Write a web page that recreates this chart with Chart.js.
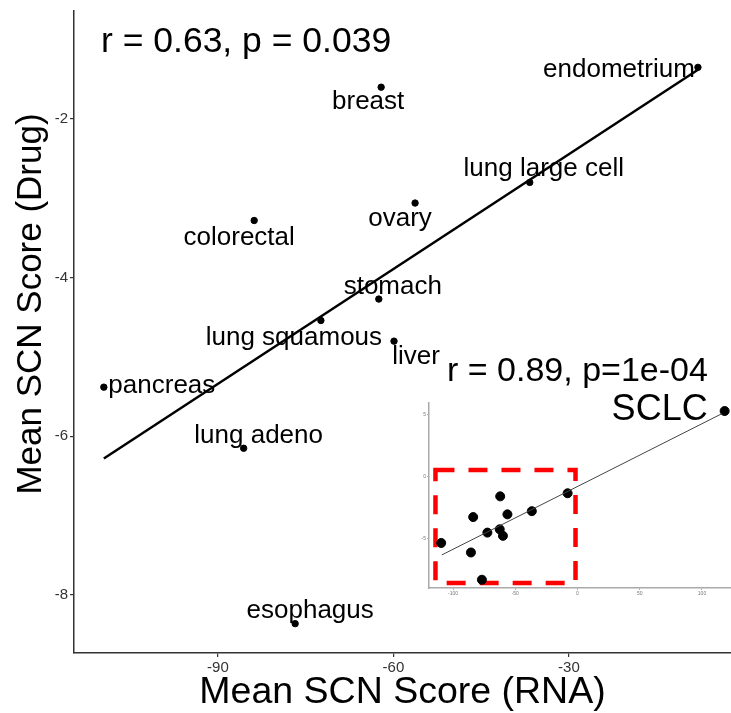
<!DOCTYPE html>
<html>
<head>
<meta charset="utf-8">
<script src="https://cdn.jsdelivr.net/npm/chart.js@4.4.1/dist/chart.umd.min.js"></script>
<style>
  html, body { margin: 0; padding: 0; background: #fff; overflow: hidden; }
  #wrap { position: relative; width: 731px; height: 713px; }
  #main { position: absolute; left: 0; top: 0; }
  #inset { position: absolute; left: 400px; top: 345px; }
</style>
</head>
<body>
<div id="wrap">
  <canvas id="main" width="731" height="713"></canvas>
  <canvas id="inset" width="331" height="260"></canvas>
</div>
<script>
const FONT = "'Liberation Sans', Arial, Helvetica, sans-serif";

// tumour types and their mean SCN scores
const tissues = ["endometrium", "breast", "lung large cell", "ovary", "colorectal", "stomach",
  "lung squamous", "liver", "pancreas", "lung adeno", "esophagus"];
const rnaScore = [-7.95, -62.1, -36.7, -56.3, -83.8, -62.5, -72.4, -59.9, -109.5, -85.6, -76.8];
const drugScore = [-1.35, -1.60, -2.80, -3.06, -3.28, -4.27, -4.54, -4.80, -5.38, -6.15, -8.36];

// SCLC only shows up in the inset
const sclcName = ["SCLC"];
const sclcRna = [118.2];
const sclcDrug = [5.32];

// fitted lines (end points)
const fitRna = [-109.5, -7.95];
const fitDrug = [-6.28, -1.38];
const insetFitRna = [-109, 115.5];
const insetFitDrug = [-6.35, 5.08];

// red zoom box in the inset
const boxRna = [-114.1, -1.6];
const boxDrug = [-8.63, 0.54];

// ticks
const mainXTicks = [-90, -60, -30];
const mainYTicks = [-8, -6, -4, -2];
const insetXTicks = [-100, -50, 0, 50, 100];
const insetYTicks = [-5, 0, 5];

// where each label sits relative to its point (px)
const labelShift = [[-79, 2], [-13, 15], [14, -14], [-15, 16], [-15, 17], [14, -12],
  [-27, 17], [22, 16], [58, -1], [15, -12], [15, -13]];

const toPts = (xs, ys) => xs.map((x, i) => ({ x: x, y: ys[i] }));

const mainText = {
  id: "mainText",
  afterDatasetsDraw(chart) {
    const ctx = chart.ctx;
    const area = chart.chartArea;
    const pts = chart.getDatasetMeta(1).data;
    ctx.save();
    ctx.fillStyle = "#000";
    ctx.textBaseline = "middle";
    ctx.textAlign = "center";
    ctx.font = "26px " + FONT;
    pts.forEach((p, i) => {
      ctx.fillText(tissues[i], p.x + labelShift[i][0], p.y + labelShift[i][1]);
    });

    ctx.textAlign = "left";
    ctx.font = "35.5px " + FONT;
    ctx.fillText("r = 0.63, p = 0.039", area.left + 27, area.top + 31);

    // axis titles
    ctx.textAlign = "center";
    ctx.font = "37.5px " + FONT;
    ctx.fillText("Mean SCN Score (RNA)", (area.left + area.right) / 2, area.bottom + 40);
    ctx.font = "35px " + FONT;
    ctx.translate(31, 304);
    ctx.rotate(-Math.PI / 2);
    ctx.fillText("Mean SCN Score (Drug)", 0, 0);
    ctx.restore();
  }
};

const axisLook = (ticks, size) => ({
  afterBuildTicks: s => { s.ticks = ticks.map(v => ({ value: v })); },
  grid: { display: true, drawOnChartArea: false, drawTicks: true, tickLength: 4, color: "#333", lineWidth: 1.2 },
  border: { display: true, color: "#333", width: 1.5 },
  ticks: { color: "#333", font: { size: size, family: FONT }, padding: 2, maxRotation: 0 }
});

new Chart(document.getElementById("main"), {
  type: "scatter",
  data: {
    datasets: [
      {
        type: "line",
        data: toPts(fitRna, fitDrug),
        borderColor: "#000",
        borderWidth: 2.5,
        pointRadius: 0,
        fill: false
      },
      {
        data: toPts(rnaScore, drugScore),
        backgroundColor: "#000",
        borderColor: "#000",
        pointRadius: 3.2
      }
    ]
  },
  options: {
    responsive: false,
    animation: false,
    layout: { autoPadding: false, padding: { top: 9, right: 0, left: 0, bottom: 0 } },
    plugins: { legend: { display: false }, tooltip: { enabled: false } },
    scales: {
      x: Object.assign(axisLook(mainXTicks, 15), {
        type: "linear", min: -114.6, max: -2.3,
        afterFit: s => { s.height = 60; }
      }),
      y: Object.assign(axisLook(mainYTicks, 15), {
        type: "linear", min: -8.73, max: -0.64,
        afterFit: s => { s.width = 74; }
      })
    }
  },
  plugins: [mainText]
});

const insetExtras = {
  id: "insetExtras",
  beforeDatasetsDraw(chart) {
    const ctx = chart.ctx;
    const x = chart.scales.x, y = chart.scales.y;
    const x0 = x.getPixelForValue(boxRna[0]), x1 = x.getPixelForValue(boxRna[1]);
    const y0 = y.getPixelForValue(boxDrug[1]), y1 = y.getPixelForValue(boxDrug[0]);
    ctx.save();
    ctx.strokeStyle = "#ff0000";
    ctx.lineWidth = 4.5;
    ctx.setLineDash([19, 14]);
    ctx.strokeRect(x0, y0, x1 - x0, y1 - y0);
    ctx.restore();
  },
  afterDatasetsDraw(chart) {
    const ctx = chart.ctx;
    const area = chart.chartArea;
    const p = chart.getDatasetMeta(1).data[rnaScore.length];
    ctx.save();
    ctx.fillStyle = "#000";
    ctx.textBaseline = "middle";
    ctx.textAlign = "right";
    ctx.font = "36px " + FONT;
    ctx.fillText(sclcName[0], p.x - 17, p.y - 1);
    ctx.textAlign = "left";
    ctx.font = "34px " + FONT;
    ctx.fillText("r = 0.89, p=1e-04", area.left + 18, area.top - 31);
    ctx.restore();
  }
};

const insetAxis = ticks => ({
  afterBuildTicks: s => { s.ticks = ticks.map(v => ({ value: v })); },
  grid: { display: true, drawOnChartArea: false, drawTicks: true, tickLength: 2, color: "#aaa", lineWidth: 1 },
  border: { display: true, color: "#aaa", width: 1.5 },
  ticks: { color: "#777", font: { size: 5, family: FONT }, padding: 1, maxRotation: 0 }
});

new Chart(document.getElementById("inset"), {
  type: "scatter",
  data: {
    datasets: [
      {
        type: "line",
        data: toPts(insetFitRna, insetFitDrug),
        borderColor: "#444",
        borderWidth: 1,
        pointRadius: 0,
        fill: false
      },
      {
        data: toPts(rnaScore.concat(sclcRna), drugScore.concat(sclcDrug)),
        backgroundColor: "#000",
        borderColor: "#000",
        pointRadius: 4.5
      }
    ]
  },
  options: {
    responsive: false,
    animation: false,
    layout: { autoPadding: false, padding: { top: 58, right: 0, left: 0, bottom: 0 } },
    plugins: { legend: { display: false }, tooltip: { enabled: false } },
    scales: {
      x: Object.assign(insetAxis(insetXTicks), {
        type: "linear", min: -119.3, max: 123.3,
        afterFit: s => { s.height = 17; }
      }),
      y: Object.assign(insetAxis(insetYTicks), {
        type: "linear", min: -9.03, max: 5.97,
        afterFit: s => { s.width = 29; }
      })
    }
  },
  plugins: [insetExtras]
});
</script>
</body>
</html>
